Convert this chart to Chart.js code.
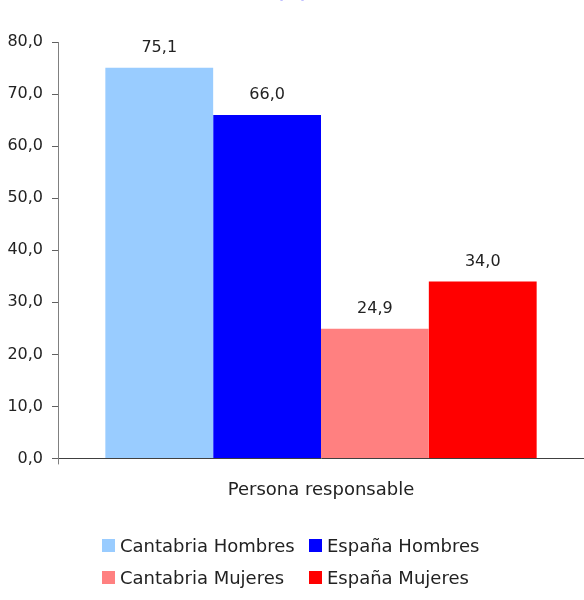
<!DOCTYPE html>
<html>
<head>
<meta charset="utf-8">
<script src="https://cdn.jsdelivr.net/npm/chart.js@4.4.1/dist/chart.umd.min.js"></script>
<style>
  html, body { margin: 0; padding: 0; background: #fff; }
  #wrap { position: relative; width: 584px; height: 600px; overflow: hidden; font-family: 'DejaVu Sans', sans-serif; }
  #chart { position: absolute; left: 0; top: -17px; }
  .item { position: absolute; display: flex; align-items: flex-start; font-size: 18px; line-height: 18px; color: #222; white-space: nowrap; }
  .item span.box { display: inline-block; width: 13px; height: 13px; margin-top: 2px; margin-right: 5px; }
</style>
</head>
<body>
<div id="wrap">
  <canvas id="chart" width="584" height="617"></canvas>
  <div id="legend"></div>
</div>
<script>
var categories = ['Persona responsable'];
var seriesNames = ['Cantabria Hombres', 'España Hombres', 'Cantabria Mujeres', 'España Mujeres'];
var seriesValues = [75.1, 66.0, 24.9, 34.0];
var seriesColors = ['#99ccff', '#0000ff', '#ff8080', '#ff0000'];
var yTicks = [0, 10, 20, 30, 40, 50, 60, 70, 80];

function fmt(v) {
    return v.toFixed(1).replace('.', ',');
}

// value labels above each bar
var valueLabels = {
    id: 'valueLabels',
    afterDatasetsDraw: function(chart) {
        var ctx = chart.ctx;
        ctx.save();
        ctx.font = '16px "DejaVu Sans"';
        ctx.fillStyle = '#222';
        ctx.textAlign = 'center';
        ctx.textBaseline = 'alphabetic';
        chart.data.datasets.forEach(function(ds, i) {
            chart.getDatasetMeta(i).data.forEach(function(bar, j) {
                ctx.fillText(fmt(ds.data[j]), bar.x, bar.y - 16);
            });
        });
        ctx.restore();
    }
};

var datasets = [];
for (var i = 0; i < seriesNames.length; i++) {
    datasets.push({
        label: seriesNames[i],
        data: [seriesValues[i]],
        backgroundColor: seriesColors[i],
        borderWidth: 0
    });
}

var ctx = document.getElementById('chart').getContext('2d');
var chart = new Chart(ctx, {
    type: 'bar',
    data: {
        labels: categories,
        datasets: datasets
    },
    options: {
        responsive: false,
        animation: false,
        layout: { padding: { left: 0, right: 0, top: 0, bottom: 84 } },
        categoryPercentage: 0.82,
        barPercentage: 1,
        plugins: {
            legend: { display: false },
            tooltip: { enabled: false },
            title: {
                display: true,
                text: '(%)',
                color: '#0000ff',
                font: { family: 'DejaVu Sans', size: 16, weight: 'bold' },
                padding: { top: 1, bottom: 39 }
            }
        },
        scales: {
            x: {
                grid: { display: true, drawOnChartArea: false, drawTicks: true, tickLength: 6, color: '#808080', offset: true },
                border: { display: true, color: '#404040', width: 1 },
                ticks: { color: '#222', padding: 15, font: { family: 'DejaVu Sans', size: 18 } }
            },
            y: {
                min: 0,
                max: 80,
                afterFit: function(scale) { scale.width = 58; },
                afterBuildTicks: function(scale) {
                    scale.ticks = yTicks.map(function(v) { return { value: v }; });
                },
                grid: { display: true, drawOnChartArea: false, drawTicks: true, tickLength: 6, color: '#606060' },
                border: { display: true, color: '#808080', width: 1 },
                ticks: {
                    color: '#222',
                    padding: 9,
                    font: { family: 'DejaVu Sans', size: 16 },
                    callback: function(v) { return fmt(v); }
                }
            }
        }
    },
    plugins: [valueLabels]
});

// legend in two aligned columns
var legend = document.getElementById('legend');
var colX = [102, 309];
var rowY = [537, 569];
chart.data.datasets.forEach(function(ds, i) {
    var item = document.createElement('div');
    item.className = 'item';
    item.style.left = colX[i % 2] + 'px';
    item.style.top = rowY[Math.floor(i / 2)] + 'px';
    var box = document.createElement('span');
    box.className = 'box';
    box.style.background = ds.backgroundColor;
    var txt = document.createElement('span');
    txt.textContent = ds.label;
    item.appendChild(box);
    item.appendChild(txt);
    legend.appendChild(item);
});
</script>
</body>
</html>
